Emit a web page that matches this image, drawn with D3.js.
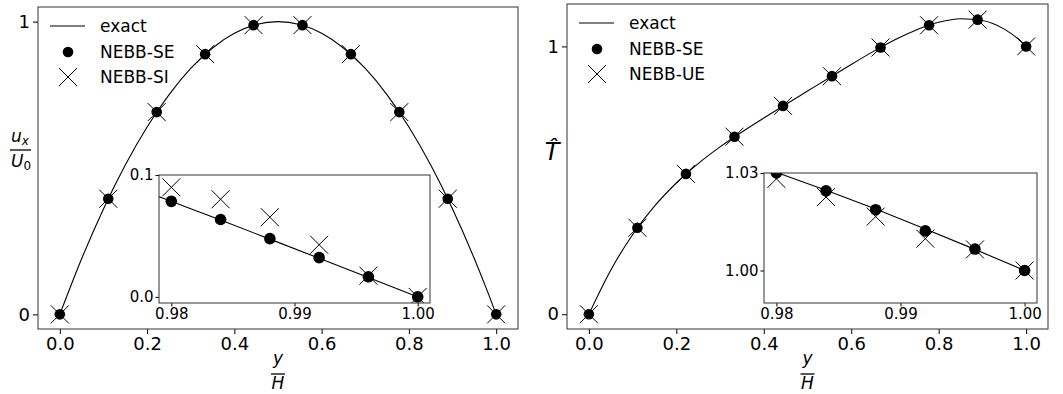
<!DOCTYPE html>
<html>
<head>
<meta charset="utf-8">
<script src="https://cdn.jsdelivr.net/npm/d3@7"></script>
<style>
  body { margin: 0; background: #fff; }
  svg { display: block; font-family: "DejaVu Sans", sans-serif; }
</style>
</head>
<body>
<div id="chart"></div>
<script>

// exact profiles, sampled in y/H (extra samples near the wall for the insets)
var exactY = [0, 0.05, 0.1, 0.15, 0.2, 0.25, 0.3, 0.35, 0.4, 0.45, 0.5,
              0.55, 0.6, 0.65, 0.7, 0.75, 0.8, 0.85, 0.9, 0.95,
              0.978, 0.98, 0.984, 0.988, 0.992, 0.996, 1.0];
var exactU = [0, 0.19, 0.36, 0.51, 0.64, 0.75, 0.84, 0.91, 0.96, 0.99, 1.0,
              0.99, 0.96, 0.91, 0.84, 0.75, 0.64, 0.51, 0.36, 0.19,
              0.0861, 0.0784, 0.0630, 0.0474, 0.0317, 0.0159, 0];
var exactT = [0, 0.1646, 0.2968, 0.4033, 0.4901, 0.5625, 0.6248, 0.6806, 0.7328, 0.7833, 0.8333,
              0.8833, 0.9328, 0.9806, 1.0248, 1.0625, 1.0901, 1.1033, 1.0968, 1.0646,
              1.0329, 1.0302, 1.0247, 1.0189, 1.0128, 1.0065, 1.0];

// simulation points in the main panels
var pointY = [0, 0.111, 0.222, 0.333, 0.444, 0.556, 0.667, 0.778, 0.889, 1.0];
var seU = [0, 0.395, 0.691, 0.889, 0.988, 0.988, 0.889, 0.691, 0.395, 0];
var siU = [0, 0.395, 0.691, 0.889, 0.988, 0.988, 0.889, 0.691, 0.395, 0];
var seT = [0, 0.323, 0.524, 0.663, 0.778, 0.889, 0.996, 1.079, 1.100, 1.0];
var ueT = [0, 0.323, 0.524, 0.663, 0.778, 0.889, 0.996, 1.079, 1.100, 1.0];

// near-wall points in the insets
var wallY = [0.98, 0.984, 0.988, 0.992, 0.996, 1.0];
var wallSeU = [0.0784, 0.0635, 0.0478, 0.0322, 0.0165, 0];
var wallSiU = [0.0899, 0.0801, 0.0654, 0.0428, 0.0174, 0];
var wallSeT = [1.0300, 1.0245, 1.0187, 1.0122, 1.0066, 1.0];
var wallUeT = [1.0282, 1.0226, 1.0166, 1.0098, 1.0065, 1.0];

var xTicks = [0, 0.2, 0.4, 0.6, 0.8, 1.0];
var yTicks = [0, 1];
var insetXTicks = [0.98, 0.99, 1.0];
var insetUTicks = [0, 0.1];
var insetTTicks = [1.0, 1.03];

var width = 1063;
var height = 394;

var svg = d3.select('#chart')
    .append('svg')
    .attr('width', width)
    .attr('height', height);

svg.append('rect').attr('width', width).attr('height', height).attr('fill', '#fff');

var cross = 'M-9,-9L9,9M-9,9L9,-9';

function padded(lo, hi) {
  var d = (hi - lo) * 0.05;
  return [lo - d, hi + d];
}

function styleAxis(g, size) {
  g.attr('font-family', null).attr('font-size', size);
  g.select('.domain').remove();
  g.selectAll('line').attr('stroke', '#000');
  g.selectAll('text').attr('fill', '#000');
}

function drawMarkers(g, xs, ys, x, y, kind, r) {
  var pts = xs.map(function(v, i) { return [v, ys[i]]; });
  if (kind == 'dot') {
    g.selectAll(null).data(pts).enter().append('circle')
      .attr('cx', function(d) { return x(d[0]); })
      .attr('cy', function(d) { return y(d[1]); })
      .attr('r', r)
      .attr('fill', '#000');
  } else {
    g.selectAll(null).data(pts).enter().append('path')
      .attr('transform', function(d) { return 'translate(' + x(d[0]) + ',' + y(d[1]) + ')'; })
      .attr('d', cross)
      .attr('fill', 'none')
      .attr('stroke', '#000')
      .attr('stroke-width', 1);
  }
}

function drawPanel(o) {
  var x = d3.scaleLinear().domain(padded(0, 1)).range([o.left, o.right]);
  var y = d3.scaleLinear().domain(padded(0, d3.max(o.exact))).range([o.bottom, o.top]);
  var g = svg.append('g');

  var line = d3.line()
      .x(function(d, i) { return x(exactY[i]); })
      .y(function(d) { return y(d); })
      .curve(d3.curveMonotoneX);

  g.append('path')
    .datum(o.exact)
    .attr('d', line)
    .attr('fill', 'none')
    .attr('stroke', '#000')
    .attr('stroke-width', 1.1);

  drawMarkers(g, pointY, o.se, x, y, 'dot', 5.3);
  drawMarkers(g, pointY, o.other, x, y, 'cross');

  var xAxis = g.append('g')
    .attr('transform', 'translate(0,' + o.bottom + ')')
    .call(d3.axisBottom(x).tickValues(xTicks).tickFormat(d3.format('.1f')).tickSize(5).tickPadding(3));
  styleAxis(xAxis, 18);

  var yAxis = g.append('g')
    .attr('transform', 'translate(' + o.left + ',0)')
    .call(d3.axisLeft(y).tickValues(yTicks).tickFormat(d3.format('d')).tickSize(5).tickPadding(3));
  styleAxis(yAxis, 18);

  g.append('rect')
    .attr('x', o.left).attr('y', o.top)
    .attr('width', o.right - o.left).attr('height', o.bottom - o.top)
    .attr('fill', 'none').attr('stroke', '#333').attr('stroke-width', 1);

  // inset
  var b = o.inset;
  var ix = d3.scaleLinear().domain([0.979, 1.001]).range([b.left, b.right]);
  var iy = d3.scaleLinear().domain(b.yDomain).range([b.bottom, b.top]);
  var ig = svg.append('g');
  ig.append('rect')
    .attr('x', b.left).attr('y', b.top)
    .attr('width', b.right - b.left).attr('height', b.bottom - b.top)
    .attr('fill', '#fff');

  svg.append('clipPath').attr('id', b.id)
    .append('rect')
    .attr('x', b.left).attr('y', b.top)
    .attr('width', b.right - b.left).attr('height', b.bottom - b.top);

  var inner = ig.append('g').attr('clip-path', 'url(#' + b.id + ')');
  var iline = d3.line()
      .x(function(d, i) { return ix(exactY[i]); })
      .y(function(d) { return iy(d); })
      .curve(d3.curveMonotoneX);
  inner.append('path')
    .datum(o.exact)
    .attr('d', iline)
    .attr('fill', 'none')
    .attr('stroke', '#000')
    .attr('stroke-width', 1.1);
  drawMarkers(inner, wallY, b.se, ix, iy, 'dot', 5.8);
  drawMarkers(inner, wallY, b.other, ix, iy, 'cross');

  var ixAxis = ig.append('g')
    .attr('transform', 'translate(0,' + b.bottom + ')')
    .call(d3.axisBottom(ix).tickValues(insetXTicks).tickFormat(d3.format('.2f')).tickSize(3.5).tickPadding(1.5));
  styleAxis(ixAxis, 15);

  var iyAxis = ig.append('g')
    .attr('transform', 'translate(' + b.left + ',0)')
    .call(d3.axisLeft(iy).tickValues(b.ticks).tickFormat(d3.format(b.fmt)).tickSize(3.5).tickPadding(2));
  styleAxis(iyAxis, 15);

  ig.append('rect')
    .attr('x', b.left).attr('y', b.top)
    .attr('width', b.right - b.left).attr('height', b.bottom - b.top)
    .attr('fill', 'none').attr('stroke', '#333').attr('stroke-width', 1);

  // legend
  var lg = svg.append('g').attr('font-size', 17);
  var rows = [o.top + 19, o.top + 45, o.top + 70];
  lg.append('line')
    .attr('x1', o.left + 12).attr('x2', o.left + 47)
    .attr('y1', rows[0]).attr('y2', rows[0])
    .attr('stroke', '#000').attr('stroke-width', 1.1);
  lg.append('circle').attr('cx', o.left + 30).attr('cy', rows[1]).attr('r', 5.3).attr('fill', '#000');
  lg.append('path')
    .attr('transform', 'translate(' + (o.left + 30) + ',' + rows[2] + ')')
    .attr('d', cross).attr('fill', 'none').attr('stroke', '#000').attr('stroke-width', 1);
  o.names.forEach(function(n, i) {
    lg.append('text').attr('x', o.left + 62).attr('y', rows[i] + 6).text(n);
  });

  // x label  y/H
  var cx = (o.left + o.right) / 2;
  var xl = svg.append('g').attr('font-size', 17).attr('font-style', 'italic').attr('text-anchor', 'middle');
  xl.append('text').attr('x', cx).attr('y', 364).text('y');
  xl.append('line').attr('x1', cx - 7).attr('x2', cx + 7).attr('y1', 374).attr('y2', 374)
    .attr('stroke', '#000').attr('stroke-width', 1.3);
  xl.append('text').attr('x', cx).attr('y', 389).text('H');

  return g;
}

drawPanel({
  left: 38, right: 518, top: 7, bottom: 329,
  exact: exactU, se: seU, other: siU,
  names: ['exact', 'NEBB-SE', 'NEBB-SI'],
  inset: { id: 'clipU', left: 159, right: 430, top: 175, bottom: 303,
           yDomain: [-0.005, 0.1], ticks: insetUTicks, fmt: '.1f',
           se: wallSeU, other: wallSiU }
});

drawPanel({
  left: 567, right: 1048, top: 4, bottom: 329,
  exact: exactT, se: seT, other: ueT,
  names: ['exact', 'NEBB-SE', 'NEBB-UE'],
  inset: { id: 'clipT', left: 764, right: 1037, top: 173, bottom: 303,
           yDomain: [0.99, 1.03], ticks: insetTTicks, fmt: '.2f',
           se: wallSeT, other: wallUeT }
});

// y label  u_x / U_0
var yl = svg.append('g').attr('font-size', 17).attr('font-style', 'italic').attr('text-anchor', 'middle');
var num = yl.append('text').attr('x', 20).attr('y', 141.5);
num.append('tspan').text('u');
num.append('tspan').attr('font-size', 12).attr('dy', 3).text('x');
yl.append('line').attr('x1', 10).attr('x2', 31).attr('y1', 150).attr('y2', 150)
  .attr('stroke', '#000').attr('stroke-width', 1.3);
var den = yl.append('text').attr('x', 21).attr('y', 166.5);
den.append('tspan').text('U');
den.append('tspan').attr('font-size', 12).attr('font-style', 'normal').attr('dy', 3).text('0');

// y label  T hat
svg.append('text').attr('x', 552).attr('y', 160).attr('font-size', 24)
  .attr('font-style', 'italic').attr('text-anchor', 'middle').text('T\u0302');

</script>
</body>
</html>
